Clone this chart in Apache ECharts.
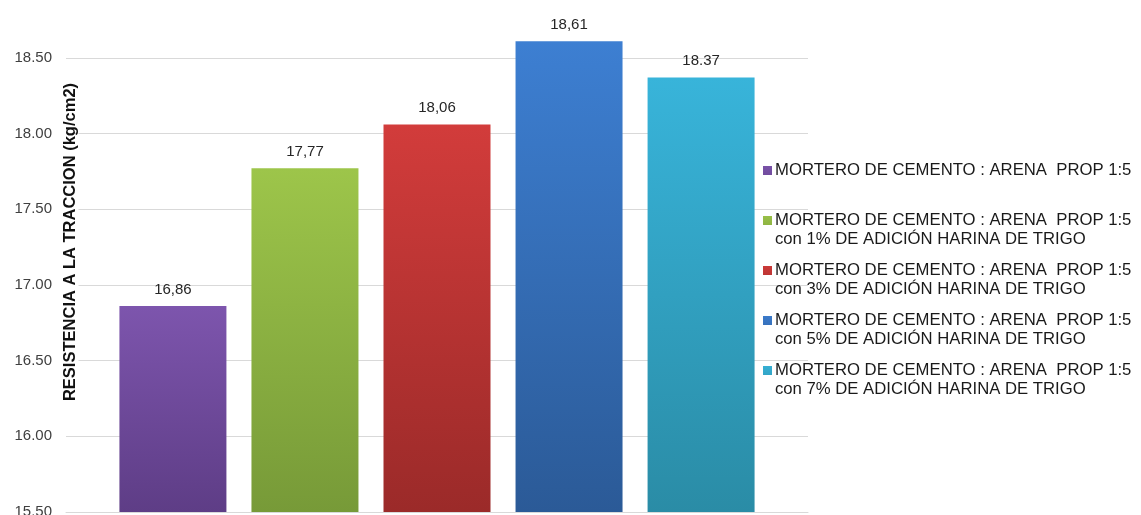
<!DOCTYPE html>
<html>
<head>
<meta charset="utf-8">
<script src="https://cdn.jsdelivr.net/npm/echarts@6/dist/echarts.min.js"></script>
<style>
  html, body { margin: 0; padding: 0; background: #fff; }
  #chart { width: 1141px; height: 515px; }
</style>
</head>
<body>
<div id="chart"></div>
<script>
// Tensile strength of cement:sand 1:5 mortar with wheat flour additions
const seriesNames = [
  'MORTERO DE CEMENTO : ARENA  PROP 1:5',
  'MORTERO DE CEMENTO : ARENA  PROP 1:5\ncon 1% DE ADICIÓN HARINA DE TRIGO',
  'MORTERO DE CEMENTO : ARENA  PROP 1:5\ncon 3% DE ADICIÓN HARINA DE TRIGO',
  'MORTERO DE CEMENTO : ARENA  PROP 1:5\ncon 5% DE ADICIÓN HARINA DE TRIGO',
  'MORTERO DE CEMENTO : ARENA  PROP 1:5\ncon 7% DE ADICIÓN HARINA DE TRIGO'
];
const strengthValues = [16.86, 17.77, 18.06, 18.61, 18.37];
// decimal separator used in each bar's value label
const decimalMarks = [',', ',', ',', ',', '.'];
// ticks every 0.5 from 15.50; the axis runs a little past the last tick
const yTicks = { min: 15.5, max: 18.75, step: 0.5 };
const axisTitle = 'RESISTENCIA A LA TRACCION (kg/cm2)';

const gradients = [
  ['#7d55ad', '#5e3d86'],
  ['#9dc54a', '#779a38'],
  ['#d23c3b', '#9b2a29'],
  ['#3d7fd2', '#2b5a97'],
  ['#38b4da', '#2a8ca6']
];

const chart = echarts.init(document.getElementById('chart'), null, { renderer: 'canvas' });

const series = seriesNames.map((name, i) => ({
  name: name,
  type: 'bar',
  data: [strengthValues[i]],
  barWidth: 107,
  barGap: '23.4%',
  itemStyle: {
    color: new echarts.graphic.LinearGradient(0, 0, 0, 1, [
      { offset: 0, color: gradients[i][0] },
      { offset: 1, color: gradients[i][1] }
    ])
  },
  label: {
    show: true,
    position: 'top',
    distance: 9,
    color: '#262626',
    fontFamily: 'Liberation Sans, Arial, sans-serif',
    fontSize: 15,
    formatter: (p) => p.value.toFixed(2).replace('.', decimalMarks[i])
  }
}));

// square marker aligned with the first text line of each legend entry
const legendIcon = 'path://M0,0L0.01,0Z M0,5L9,5L9,14L0,14Z M0,38L0.01,38Z';

chart.setOption({
  backgroundColor: '#ffffff',
  animation: false,
  grid: {
    left: 66, right: 333, top: 20, bottom: 3,
    containLabel: false,
    outerBoundsMode: 'none'
  },
  xAxis: {
    type: 'category',
    data: [''],
    axisLine: { show: true, lineStyle: { color: '#d9d9d9', width: 1 } },
    axisTick: { show: false },
    axisLabel: { show: false }
  },
  yAxis: {
    type: 'value',
    min: yTicks.min,
    max: yTicks.max,
    interval: yTicks.step,
    axisLine: { show: false },
    axisTick: { show: false },
    splitLine: { showMaxLine: false, lineStyle: { color: '#d9d9d9', width: 1 } },
    axisLabel: {
      showMaxLabel: false,
      margin: 14,
      color: '#404040',
      fontFamily: 'Liberation Sans, Arial, sans-serif',
      fontSize: 15,
      formatter: (v) => v.toFixed(2)
    }
  },
  legend: {
    orient: 'vertical',
    left: 763,
    top: 161,
    padding: 0,
    itemGap: 12,
    itemWidth: 9,
    itemHeight: 38,
    symbolKeepAspect: false,
    icon: legendIcon,
    // every entry takes two lines; the single-line one gets an empty second line
    formatter: (n) => (n.indexOf('\n') < 0 ? n + '\n\u00a0' : n),
    textStyle: {
      color: '#1a1a1a',
      fontFamily: 'Liberation Sans, Arial, sans-serif',
      fontSize: 16.7,
      lineHeight: 19,
      padding: [0, 0, 0, -2]
    },
    selectedMode: false
  },
  graphic: [{
    type: 'text',
    x: 70,
    y: 242,
    rotation: Math.PI / 2,
    z: 10,
    style: {
      text: axisTitle,
      fill: '#111',
      font: 'bold 16.5px "Liberation Sans", Arial, sans-serif',
      align: 'center',
      verticalAlign: 'middle',
      backgroundColor: '#fff',
      padding: [0, 2]
    }
  }],
  series: series
});
</script>
</body>
</html>
